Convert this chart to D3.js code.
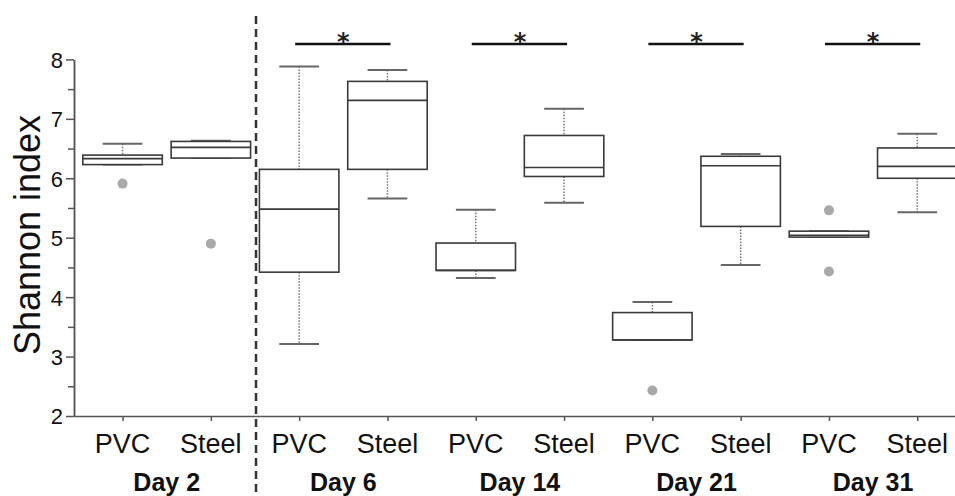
<!doctype HTML>
<meta charset="utf-8">
<style>
    body {
        margin: 0;
        background: #ffffff;
    }

    .axisGrey path,
    .axisGrey line {
        stroke: #555555;
        stroke-width: 1.5;
    }
</style>
<html>
<head>
    <script src="https://d3js.org/d3.v7.min.js"></script>
</head>
<body>
<div id="shannon_viz"></div>
<script>

    // boxes, left to right
    var days = ["Day 2", "Day 6", "Day 14", "Day 21", "Day 31"];
    var materials = ["PVC", "Steel"];
    var lowerWhisker = [6.23, 6.34, 3.21, 5.66, 4.32, 5.59, 3.28, 4.54, 5.01, 5.43];
    var q1 = [6.23, 6.34, 4.42, 6.15, 4.45, 6.03, 3.28, 5.19, 5.01, 6.00];
    var median = [6.33, 6.52, 5.48, 7.31, 4.45, 6.18, 3.28, 6.21, 5.04, 6.20];
    var q3 = [6.39, 6.62, 6.15, 7.63, 4.91, 6.72, 3.74, 6.37, 5.11, 6.51];
    var upperWhisker = [6.58, 6.63, 7.88, 7.82, 5.47, 7.17, 3.92, 6.41, 5.11, 6.75];
    var outliers = [[5.91], [4.90], [], [], [], [], [2.43], [], [5.46, 4.43], []];
    var significant = ["Day 6", "Day 14", "Day 21", "Day 31"];
    var yTicks = [2, 3, 4, 5, 6, 7, 8];
    var yMinorTicks = [2.5, 3.5, 4.5, 5.5, 6.5, 7.5];

    var width = 955,
        height = 496;

    var svg = d3.select("#shannon_viz")
        .append("svg")
        .attr("width", width)
        .attr("height", height);

    // one slot per box, numbered 1..10
    var xScale = d3.scaleLinear()
        .domain([0.45, 10.45])
        .range([74, 957]);
    var yScale = d3.scaleLinear()
        .domain([2, 8])
        .range([416, 59.4]);

    var boxes = [];
    days.forEach(function(day, i) {
        materials.forEach(function(m, j) {
            var k = i * 2 + j;
            boxes.push({
                day: day, material: m, pos: k + 1,
                lw: lowerWhisker[k], q1: q1[k], med: median[k],
                q3: q3[k], uw: upperWhisker[k], out: outliers[k]
            });
        });
    });

    var boxHalf = (xScale(1.45) - xScale(1)),
        capHalf = boxHalf / 2;

    // y axis with minor ticks
    svg.append("g")
        .attr("class", "axisGrey")
        .attr("transform", "translate(74,0)")
        .call(d3.axisLeft(yScale).tickValues(yMinorTicks).tickSize(6).tickSizeOuter(0).tickFormat(""));
    var yAxis = svg.append("g")
        .attr("class", "axisGrey")
        .attr("transform", "translate(74,0)")
        .call(d3.axisLeft(yScale).tickValues(yTicks).tickSize(8).tickSizeOuter(0)
            .tickPadding(3).tickFormat(d3.format("d")));
    yAxis.selectAll("text")
        .attr("font-family", "Liberation Sans, Arial, sans-serif")
        .attr("font-size", "22px")
        .attr("fill", "#111111")
        .attr("dy", "0.36em");

    // x axis
    svg.append("g")
        .attr("class", "axisGrey")
        .attr("transform", "translate(0,416)")
        .call(d3.axisBottom(xScale).tickValues(boxes.map(function(d) { return d.pos; }))
            .tickSize(5).tickSizeOuter(0).tickFormat(""));

    // dashed divider after Day 2
    svg.append("line")
        .attr("x1", xScale(2.5) + 1).attr("x2", xScale(2.5) + 1)
        .attr("y1", 16).attr("y2", height)
        .attr("stroke", "#333333")
        .attr("stroke-width", 2.5)
        .attr("stroke-dasharray", "8,5");

    var g = svg.selectAll(".box")
        .data(boxes)
        .enter().append("g")
        .attr("class", "box");

    // dotted whiskers
    g.append("line")
        .attr("x1", function(d) { return xScale(d.pos); })
        .attr("x2", function(d) { return xScale(d.pos); })
        .attr("y1", function(d) { return yScale(d.uw); })
        .attr("y2", function(d) { return yScale(d.q3); })
        .attr("stroke", "#777777")
        .attr("stroke-width", 1.5)
        .attr("stroke-dasharray", "1.5,1.5");
    g.append("line")
        .attr("x1", function(d) { return xScale(d.pos); })
        .attr("x2", function(d) { return xScale(d.pos); })
        .attr("y1", function(d) { return yScale(d.q1); })
        .attr("y2", function(d) { return yScale(d.lw); })
        .attr("stroke", "#777777")
        .attr("stroke-width", 1.5)
        .attr("stroke-dasharray", "1.5,1.5");

    // whisker caps
    ["uw", "lw"].forEach(function(key) {
        g.append("line")
            .attr("x1", function(d) { return xScale(d.pos) - capHalf; })
            .attr("x2", function(d) { return xScale(d.pos) + capHalf; })
            .attr("y1", function(d) { return yScale(d[key]); })
            .attr("y2", function(d) { return yScale(d[key]); })
            .attr("stroke", "#666666")
            .attr("stroke-width", 2);
    });

    // box
    g.append("rect")
        .attr("x", function(d) { return xScale(d.pos) - boxHalf; })
        .attr("width", boxHalf * 2)
        .attr("y", function(d) { return yScale(d.q3); })
        .attr("height", function(d) { return yScale(d.q1) - yScale(d.q3); })
        .attr("fill", "white")
        .attr("stroke", "#3a3a3a")
        .attr("stroke-width", 1.6);

    // median
    g.append("line")
        .attr("x1", function(d) { return xScale(d.pos) - boxHalf; })
        .attr("x2", function(d) { return xScale(d.pos) + boxHalf; })
        .attr("y1", function(d) { return yScale(d.med); })
        .attr("y2", function(d) { return yScale(d.med); })
        .attr("stroke", "#3a3a3a")
        .attr("stroke-width", 1.6);

    // outliers
    g.selectAll("circle")
        .data(function(d) { return d.out.map(function(v) { return {pos: d.pos, v: v}; }); })
        .enter().append("circle")
        .attr("cx", function(d) { return xScale(d.pos); })
        .attr("cy", function(d) { return yScale(d.v); })
        .attr("r", 5)
        .attr("fill", "#a9a9a9");

    // significance bars
    var sig = svg.selectAll(".sig")
        .data(significant)
        .enter().append("g")
        .attr("class", "sig");
    sig.append("line")
        .attr("x1", function(d) { return xScale(days.indexOf(d) * 2 + 1) - 4; })
        .attr("x2", function(d) { return xScale(days.indexOf(d) * 2 + 2) + 3; })
        .attr("y1", 44).attr("y2", 44)
        .attr("stroke", "#111111")
        .attr("stroke-width", 2.5);
    sig.append("text")
        .attr("x", function(d) { return xScale(days.indexOf(d) * 2 + 1.5); })
        .attr("y", 50)
        .attr("text-anchor", "middle")
        .attr("font-family", "DejaVu Sans, sans-serif")
        .attr("font-size", "24px")
        .attr("font-weight", "bold")
        .attr("fill", "#222222")
        .text("*");

    // category labels
    svg.selectAll(".matLabel")
        .data(boxes)
        .enter().append("text")
        .attr("class", "matLabel")
        .attr("x", function(d) { return xScale(d.pos); })
        .attr("y", 453)
        .attr("text-anchor", "middle")
        .attr("font-family", "Liberation Sans, Arial, sans-serif")
        .attr("font-size", "27px")
        .attr("fill", "#111111")
        .text(function(d) { return d.material; });

    svg.selectAll(".dayLabel")
        .data(days)
        .enter().append("text")
        .attr("class", "dayLabel")
        .attr("x", function(d, i) { return xScale(i * 2 + 1.5); })
        .attr("y", 491)
        .attr("text-anchor", "middle")
        .attr("font-family", "Liberation Sans, Arial, sans-serif")
        .attr("font-size", "25px")
        .attr("font-weight", "bold")
        .attr("fill", "#111111")
        .text(function(d) { return d; });

    // y title
    svg.append("text")
        .attr("transform", "translate(40,235) rotate(-90)")
        .attr("text-anchor", "middle")
        .attr("font-family", "Liberation Sans, Arial, sans-serif")
        .attr("font-size", "36px")
        .attr("fill", "#111111")
        .text("Shannon index");

</script>
</body>
</html>
